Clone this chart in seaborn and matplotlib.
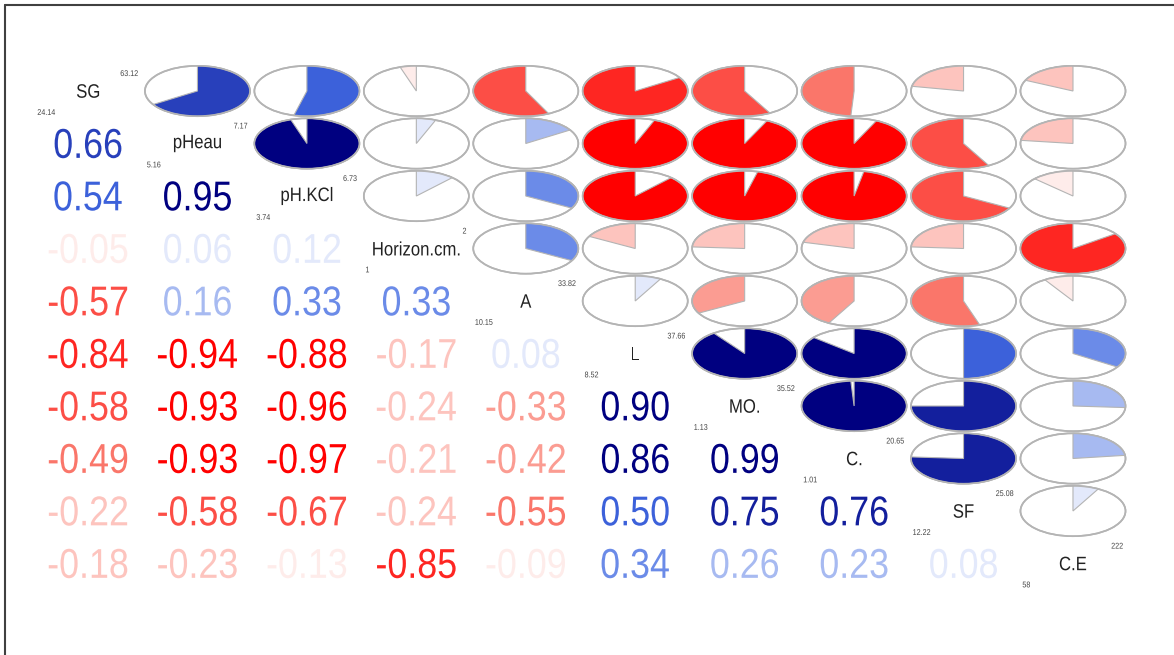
import numpy as np
import pandas as pd
import seaborn as sns
import matplotlib.pyplot as plt
from matplotlib.patches import Polygon, Ellipse, PathPatch
from matplotlib.lines import Line2D
from matplotlib.textpath import TextPath
from matplotlib.font_manager import FontProperties
from matplotlib.transforms import Affine2D

sns.set_style("white")

# variables on the diagonal with their min / max
variables = ["SG", "pHeau", "pH.KCl", "Horizon.cm.", "A", "L", "MO.", "C.", "SF", "C.E"]
var_min = ["24.14", "5.16", "3.74", "1", "10.15", "8.52", "1.13", "1.01", "12.22", "58"]
var_max = ["63.12", "7.17", "6.73", "2", "33.82", "37.66", "35.52", "20.65", "25.08", "222"]

# correlations, lower triangle row by row
r_pheau = [0.66]
r_phkcl = [0.54, 0.95]
r_horizon = [-0.05, 0.06, 0.12]
r_a = [-0.572, 0.16, 0.33, 0.33]
r_l = [-0.84, -0.94, -0.88, -0.17, 0.08]
r_mo = [-0.58, -0.93, -0.96, -0.24, -0.33, 0.90]
r_c = [-0.49, -0.93, -0.97, -0.21, -0.42, 0.86, 0.99]
r_sf = [-0.22, -0.58, -0.67, -0.24, -0.55, 0.50, 0.75, 0.76]
r_ce = [-0.18, -0.23, -0.13, -0.85, -0.09, 0.34, 0.26, 0.23, 0.08]

lower = [[], r_pheau, r_phkcl, r_horizon, r_a, r_l, r_mo, r_c, r_sf, r_ce]
n = len(variables)
corr = np.eye(n)
for i, row in enumerate(lower):
    for j, v in enumerate(row):
        corr[i, j] = v
        corr[j, i] = v
corr = pd.DataFrame(corr, index=variables, columns=variables)

# corrgram style palette, 14 bins over [-1, 1]
pal = sns.blend_palette(["red", "salmon", "white", "royalblue", "navy"], n_colors=14)


def col_for(r):
    k = int(np.ceil((r + 1) * 7)) - 1
    return pal[min(max(k, 0), 13)]


W, H = 1174, 655
fig = plt.figure(figsize=(W / 100, H / 100), dpi=100)
x0, x1 = 33.3, 1127.7
y0, y1 = 64.75, 589.75
ax = fig.add_axes([x0 / W, 1 - y1 / H, (x1 - x0) / W, (y1 - y0) / H])
ax.set_xlim(-0.5, n - 0.5)
ax.set_ylim(n - 0.5, -0.5)
ax.set_axis_off()

fp = FontProperties(family="Liberation Sans")


def squeezed_text(x, y, s, size_pt, color, ha="center", sx=0.86):
    # text drawn as a path so it can be narrowed like the original
    tp = TextPath((0, 0), s, size=size_pt * 100 / 72, prop=fp)
    ext = tp.get_extents()
    px, py = ax.transData.transform((x, y))
    ox = {"center": (ext.x0 + ext.x1) / 2, "left": ext.x0, "right": ext.x1}[ha]
    oy = (ext.y0 + ext.y1) / 2
    tr = Affine2D().translate(-ox, -oy).scale(sx, 1).translate(px, py)
    fig.add_artist(PathPatch(tp, transform=tr, fc=color, ec="none", lw=0))


rad = 0.48
edge = "#b4b4b4"

for i in range(n):
    for j in range(n):
        r = corr.iloc[i, j]
        if i == j:
            squeezed_text(j, i, variables[i], 14, "#222222")
            squeezed_text(j + 0.455, i - 0.34, var_max[i], 6, "#444444", ha="right")
            squeezed_text(j - 0.46, i + 0.40, var_min[i], 6, "#444444", ha="left")
        elif i > j:
            squeezed_text(j, i, f"{r:.2f}", 30, col_for(r))
        else:
            ax.add_patch(Ellipse((j, i), 2 * rad, 2 * rad, fc="white", ec=edge, lw=1.2))
            sgn = 1 if r >= 0 else -1
            t = np.linspace(0, 2 * np.pi * abs(r), 200)
            xs = j + sgn * rad * np.sin(t)
            ys = i - rad * np.cos(t)
            pts = np.column_stack([np.r_[j, xs], np.r_[i, ys]])
            ax.add_patch(Polygon(pts, closed=True, fc=col_for(r), ec=edge, lw=0.8))
            ax.add_patch(Ellipse((j, i), 2 * rad, 2 * rad, fc="none", ec=edge, lw=1.2))

# screenshot frame (top and left edges)
fig.add_artist(Line2D([5 / W, 1], [1 - 5 / H, 1 - 5 / H], transform=fig.transFigure,
                      color="#404040", lw=1.5))
fig.add_artist(Line2D([5 / W, 5 / W], [0, 1 - 5 / H], transform=fig.transFigure,
                      color="#404040", lw=1.5))

fig.savefig("out.png", dpi=100, facecolor="white")
